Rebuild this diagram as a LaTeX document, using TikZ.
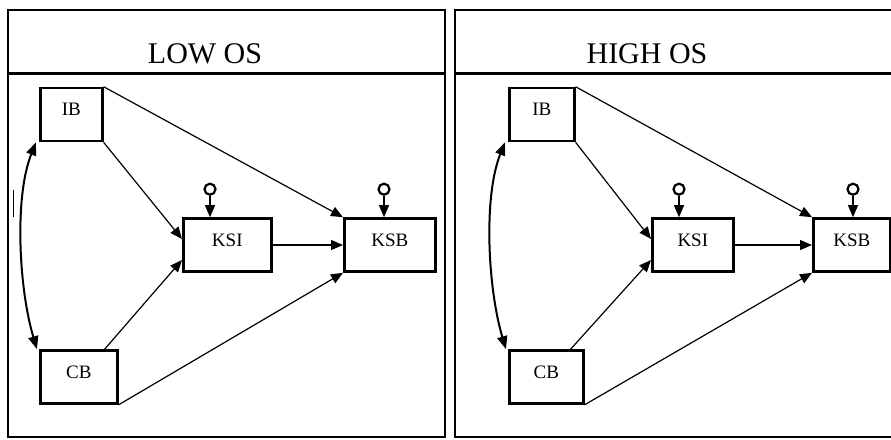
\documentclass[tikz,border=0pt]{standalone}
\usepackage{fontspec}
\setmainfont{Liberation Serif}
\usetikzlibrary{arrows.meta,positioning,calc}

\tikzset{
  panel/.style={line width=2.4pt},
  vbox/.style={draw,rectangle,line width=2.6pt,anchor=west,minimum height=53pt,
    inner sep=0pt,text depth=10pt,font=\fontsize{19}{22}\selectfont},
  errc/.style={draw,circle,line width=2.2pt,minimum size=11pt,inner sep=0pt},
  effect/.style={-{Triangle[length=12pt,width=10pt]},line width=1.2pt},
  corr/.style={{Triangle[length=13pt,width=10pt]}-{Triangle[length=13pt,width=10pt]},line width=2pt},
}

\begin{document}
\begin{tikzpicture}[x=1pt,y=-1pt]
  \clip (0,0) rectangle (891,439);

  % panel frames with header rows
  \draw[panel] (8,10) rectangle (445,437);
  \draw[panel] (455,10) rectangle (914,437);
  \draw[line width=3pt] (8,73) -- (445,73);
  \draw[line width=3pt] (455,73) -- (914,73);
  \node[font=\fontsize{30}{34}\selectfont] (titlel) at (205,54) {LOW OS};
  \node[font=\fontsize{30}{34}\selectfont] (titleh) at (647,54) {HIGH OS};
  \draw[line width=1pt] (13,190) -- (13,217);

  % same path model in both panels
  \foreach \sx/\p/\wi/\wc/\wk/\wb in {0/l/62/77/88/91, 469/h/65/74/81/77} {
    \begin{scope}[shift={(\sx,0)}]
      \node[vbox,minimum width=\wi pt] (IB\p) at (39,114.5) {IB};
      \node[vbox,minimum width=\wc pt] (CB\p) at (39,377) {CB};
      \node[vbox,minimum width=\wk pt] (KSI\p) at (182,245) {KSI};
      \node[vbox,minimum width=\wb pt] (KSB\p) at (343,245) {KSB};
      \node[errc] (eI\p) at ([shift={(28,-28)}]KSI\p.north west) {};
      \node[errc] (eB\p) at ([shift={(41,-28)}]KSB\p.north west) {};

      \draw[effect] (eI\p) -- (eI\p |- KSI\p.north);
      \draw[effect] (eB\p) -- (eB\p |- KSB\p.north);
      \draw[effect] (IB\p.north east) -- (KSB\p.north west);
      \draw[effect] (IB\p.south east) -- ([yshift=6pt]KSI\p.west);
      \draw[effect] ([xshift=-14pt]CB\p.north east) -- ([yshift=-15pt]KSI\p.west);
      \draw[effect] (CB\p.south east) -- (KSB\p.south west);
      \draw[effect] (KSI\p) -- (KSB\p);
      \draw[corr] ([xshift=-3pt]IB\p.south west) .. controls +(-22,55) and +(-18,-60) .. ([xshift=-2pt]CB\p.north west);
    \end{scope}
  }
\end{tikzpicture}
\end{document}
